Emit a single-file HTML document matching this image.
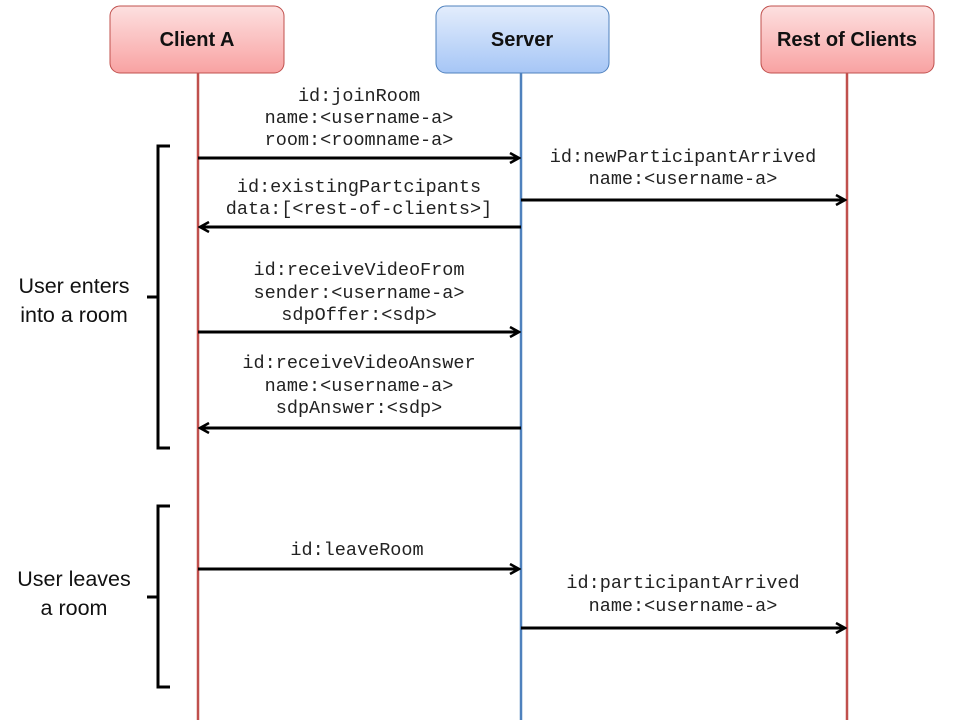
<!DOCTYPE html>
<html><head><meta charset="utf-8"><style>
body{margin:0;background:#fff}
svg text{font-family:"Liberation Mono",monospace;font-size:18.5px;fill:#222}
.h{font-family:"Liberation Sans",sans-serif;font-weight:bold;font-size:20px;fill:#111}
.l{font-family:"Liberation Sans",sans-serif;font-size:21.5px;fill:#111}
</style></head><body>
<svg width="960" height="720" xmlns="http://www.w3.org/2000/svg">
<defs>
<linearGradient id="r" x1="0" y1="0" x2="0" y2="1"><stop offset="0" stop-color="#fde0e0"/><stop offset="1" stop-color="#f8a2a2"/></linearGradient>
<linearGradient id="b" x1="0" y1="0" x2="0" y2="1"><stop offset="0" stop-color="#e3edfc"/><stop offset="1" stop-color="#a6c6f6"/></linearGradient>
<marker id="a" markerWidth="12" markerHeight="12" refX="10" refY="6" orient="auto" markerUnits="userSpaceOnUse"><path d="M1,1 L10,6 L1,11" fill="none" stroke="#000" stroke-width="2.5"/></marker>
</defs>
<line x1="198" y1="73" x2="198" y2="720" stroke="#c0504d" stroke-width="2.5"/>
<line x1="521" y1="73" x2="521" y2="720" stroke="#4f81bd" stroke-width="2.5"/>
<line x1="847" y1="73" x2="847" y2="720" stroke="#c0504d" stroke-width="2.5"/>
<rect x="110" y="6" width="174" height="67" rx="10" fill="url(#r)" stroke="#c0504d" stroke-width="1"/>
<rect x="436" y="6" width="173" height="67" rx="10" fill="url(#b)" stroke="#4f81bd" stroke-width="1"/>
<rect x="761" y="6" width="173" height="67" rx="10" fill="url(#r)" stroke="#c0504d" stroke-width="1"/>
<text class="h" x="197" y="46" text-anchor="middle">Client A</text>
<text class="h" x="522" y="46" text-anchor="middle">Server</text>
<text class="h" x="847" y="46" text-anchor="middle">Rest of Clients</text>
<g stroke="#000" stroke-width="3" fill="none">
<line x1="198" y1="158" x2="519" y2="158" marker-end="url(#a)"/>
<line x1="521" y1="200" x2="845" y2="200" marker-end="url(#a)"/>
<line x1="521" y1="227" x2="200" y2="227" marker-end="url(#a)"/>
<line x1="198" y1="332" x2="519" y2="332" marker-end="url(#a)"/>
<line x1="521" y1="428" x2="200" y2="428" marker-end="url(#a)"/>
<line x1="198" y1="569" x2="519" y2="569" marker-end="url(#a)"/>
<line x1="521" y1="628" x2="845" y2="628" marker-end="url(#a)"/>
<path d="M170,146 H158 V448 H170 M158,297 H147"/>
<path d="M170,506 H158 V687 H170 M158,597 H147"/>
</g>
<g text-anchor="middle">
<text x="359" y="101">id:joinRoom</text>
<text x="359" y="123">name:&lt;username-a&gt;</text>
<text x="359" y="145">room:&lt;roomname-a&gt;</text>
<text x="683" y="162">id:newParticipantArrived</text>
<text x="683" y="184">name:&lt;username-a&gt;</text>
<text x="359" y="192">id:existingPartcipants</text>
<text x="359" y="214">data:[&lt;rest-of-clients&gt;]</text>
<text x="359" y="275">id:receiveVideoFrom</text>
<text x="359" y="298">sender:&lt;username-a&gt;</text>
<text x="359" y="320">sdpOffer:&lt;sdp&gt;</text>
<text x="359" y="368">id:receiveVideoAnswer</text>
<text x="359" y="391">name:&lt;username-a&gt;</text>
<text x="359" y="413">sdpAnswer:&lt;sdp&gt;</text>
<text x="357" y="555">id:leaveRoom</text>
<text x="683" y="588">id:participantArrived</text>
<text x="683" y="611">name:&lt;username-a&gt;</text>
<text class="l" x="74" y="293">User enters</text>
<text class="l" x="74" y="322">into a room</text>
<text class="l" x="74" y="586">User leaves</text>
<text class="l" x="74" y="615">a room</text>
</g>
</svg>
</body></html>
